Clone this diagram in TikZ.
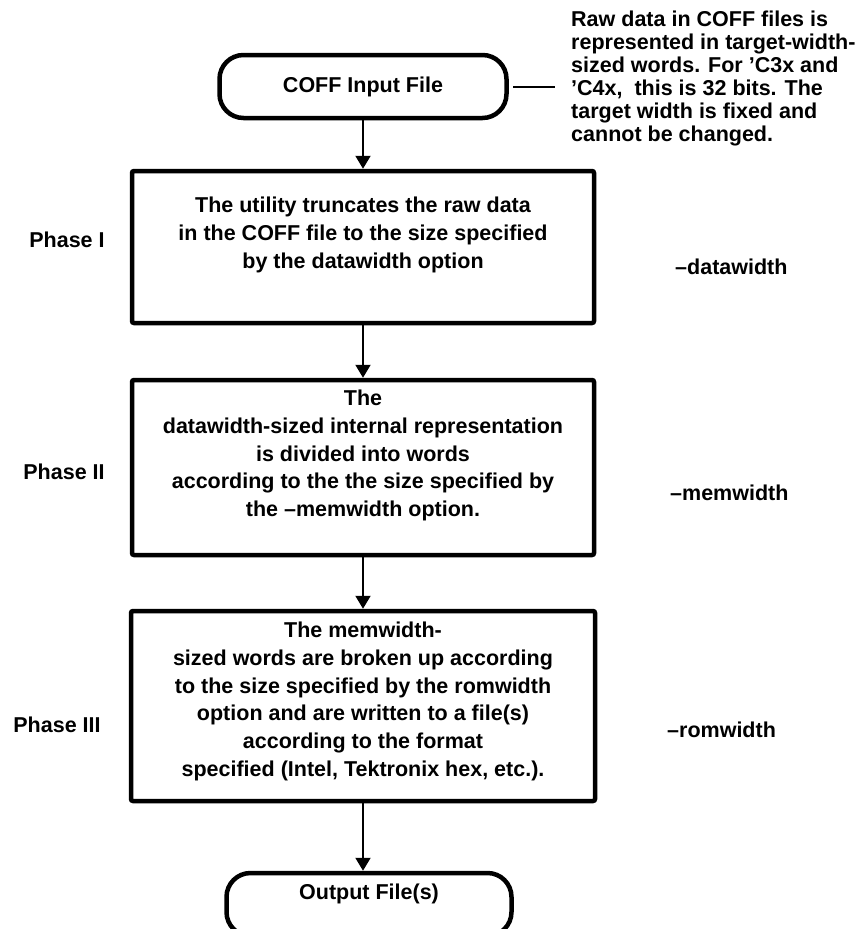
\documentclass[tikz,border=0pt]{standalone}
\usepackage{fontspec}
\setmainfont{Liberation Sans}
\usetikzlibrary{arrows.meta}
\begin{document}
\begin{tikzpicture}[x=1pt,y=-1pt,
  every node/.style={font=\bfseries\fontsize{21.5}{27.7}\selectfont, inner sep=0pt},
  terminal/.style={draw, line width=4.5pt, rounded corners=24pt, minimum height=63pt},
  stepbox/.style={draw, line width=4.5pt, rounded corners=2pt},
  flow/.style={line width=2pt, -{Triangle[width=15pt,length=13pt]}},
  note/.style={font=\bfseries\fontsize{21.5}{23}\selectfont, align=left},
  boxtext/.style={align=center, anchor=north},
  side/.style={anchor=west}
]
\useasboundingbox (0,0) rectangle (866,929);
\clip (0,0) rectangle (866,929);

% start terminal and its note
\node[terminal, minimum width=287pt] (in) at (363,86.5) {COFF Input File};
\coordinate (n1) at (513,87);
\coordinate (n2) at (555,87);
\draw[line width=2pt] (n1) -- (n2);
\node[note, anchor=north west] (raw) at (571,11) {Raw data in COFF files is\\
represented in target-width-\\
sized words. For 'C3x and\\
'C4x,\ \ this is 32 bits. The\\
target width is fixed and\\
cannot be changed.};

% phase I
\node[stepbox, minimum width=462pt, minimum height=152pt] (b1) at (363,247) {};
\node[boxtext] (t1) at (363,197) {The utility truncates the raw data\\
in the COFF file to the size specified\\
by the datawidth option};
\node (p1) at (67,240) {Phase I};
\node[side] (o1) at (675,267) {–datawidth};

% phase II
\node[stepbox, minimum width=462pt, minimum height=175pt] (b2) at (363,467.5) {};
\node[boxtext] (t2) at (363,390) {The\\
datawidth-sized internal representation\\
is divided into words\\
according to the the size specified by\\
the –memwidth option.};
\node (p2) at (64,472) {Phase II};
\node[side] (o2) at (670,493) {–memwidth};

% phase III
\node[stepbox, minimum width=464pt, minimum height=190pt] (b3) at (363,706) {};
\node[boxtext] (t3) at (363,622) {The memwidth-\\
sized words are broken up according\\
to the size specified by the romwidth\\
option and are written to a file(s)\\
according to the format\\
specified (Intel, Tektronix hex, etc.).};
\node (p3) at (57,725) {Phase III};
\node[side] (o3) at (667,730) {–romwidth};

% end terminal
\node[terminal, minimum width=285pt] (out) at (369,904.5) {};
\node (outtext) at (369,894) {Output File(s)};

% flow arrows
\draw[flow] (in.south) -- (b1.north);
\draw[flow] (b1.south) -- (b2.north);
\draw[flow] (b2.south) -- (b3.north);
\draw[flow] (b3.south) -- (b3.south |- out.north);
\end{tikzpicture}
\end{document}
